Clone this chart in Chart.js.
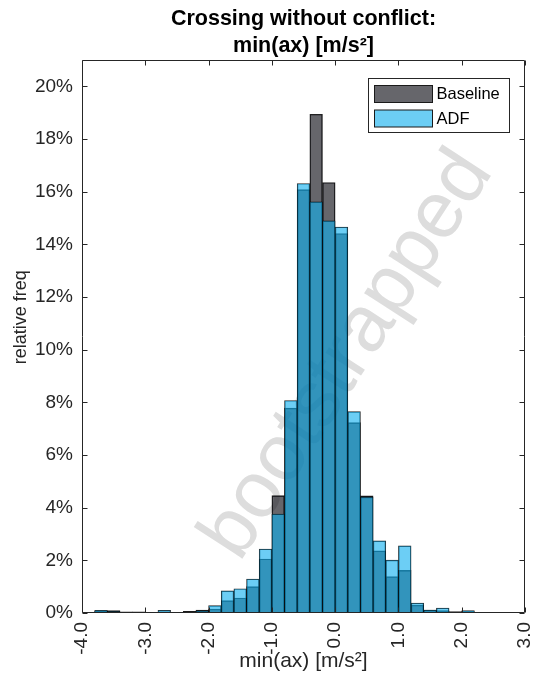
<!DOCTYPE html>
<html>
<head>
<meta charset="utf-8">
<title>Crossing without conflict: min(ax)</title>
<script src="https://cdn.jsdelivr.net/npm/chart.js@4.4.1/dist/chart.umd.min.js"></script>
<style>
  html, body { margin: 0; padding: 0; background: #ffffff; }
  #wrap { width: 534px; height: 684px; }
</style>
</head>
<body>
<div id="wrap"><canvas id="chart" width="534" height="684"></canvas></div>
<script>
// Histogram bins (centre of each 0.2 m/s² bin) and relative frequencies in %
const binCenters = [-3.7, -3.5, -3.3, -3.1, -2.9, -2.7, -2.5, -2.3, -2.1, -1.9,
                    -1.7, -1.5, -1.3, -1.1, -0.9, -0.7, -0.5, -0.3, -0.1, 0.1,
                     0.3,  0.5,  0.7,  0.9,  1.1,  1.3,  1.5,  1.7,  1.9, 2.1];
const baselineFreq = [0.06, 0.09, 0.04, 0.04, 0, 0, 0.02, 0.06, 0.11, 0.15,
                      0.47, 0.57, 1.00, 2.05, 4.46, 7.78, 16.08, 18.94, 16.35, 14.41,
                      7.23, 4.45, 2.36, 1.38, 1.62, 0.30, 0.11, 0.09, 0.05, 0.05];
const adfFreq = [0.10, 0.06, 0.03, 0.03, 0, 0.10, 0, 0.04, 0.08, 0.28,
                 0.84, 0.92, 1.29, 2.43, 3.76, 8.07, 16.31, 15.61, 14.89, 14.66,
                 7.65, 4.40, 2.74, 2.01, 2.55, 0.38, 0.11, 0.19, 0.03, 0.09];
const seriesNames = ['Baseline', 'ADF'];
const xTickValues = [-4, -3, -2, -1, 0, 1, 2, 3];
const yTickValues = [0, 2, 4, 6, 8, 10, 12, 14, 16, 18, 20];
const titleLines = ['Crossing without conflict:', 'min(ax) [m/s²]'];
const xAxisTitle = 'min(ax) [m/s²]';
const yAxisTitle = 'relative freq';
const watermarkText = 'bootstrapped';

const FONT = '"Liberation Sans", Arial, Helvetica, sans-serif';
const AXIS_COLOR = '#262626';
Chart.defaults.font.family = FONT;
Chart.defaults.color = AXIS_COLOR;

const toPoints = vals => binCenters.map((x, i) => ({ x, y: vals[i] > 0 ? vals[i] : null }));

// light grey text lying diagonally behind the bars
const watermark = {
  id: 'watermark',
  beforeDatasetsDraw(chart) {
    const { ctx, chartArea: a } = chart;
    const size = 80;
    ctx.save();
    ctx.beginPath();
    ctx.rect(a.left, a.top, a.right - a.left, a.bottom - a.top);
    ctx.clip();
    ctx.translate(a.left + (a.right - a.left) * 0.603, a.top + (a.bottom - a.top) * 0.535);
    ctx.rotate(-57 * Math.PI / 180);
    ctx.fillStyle = '#dddddd';
    ctx.font = size + 'px ' + FONT;
    ctx.textAlign = 'center';
    ctx.textBaseline = 'alphabetic';
    ctx.fillText(watermarkText, 0, size * 0.26);
    ctx.restore();
  }
};

// boxed axes with inward tick marks on all four sides, plus the y-axis label
const axesBox = {
  id: 'axesBox',
  afterDatasetsDraw(chart) {
    const { ctx, chartArea: a, scales: { x, y } } = chart;
    const L = Math.round(a.left) + 0.5, R = Math.round(a.right) - 0.5;
    const T = Math.round(a.top) + 0.5, B = Math.round(a.bottom) - 0.5;
    const tl = 5;
    ctx.save();
    ctx.strokeStyle = AXIS_COLOR;
    ctx.lineWidth = 1;
    ctx.beginPath();
    ctx.rect(L, T, R - L, B - T);
    x.ticks.forEach(t => {
      const px = Math.round(x.getPixelForValue(t.value)) + 0.5;
      ctx.moveTo(px, B); ctx.lineTo(px, B - tl);
      ctx.moveTo(px, T); ctx.lineTo(px, T + tl);
    });
    y.ticks.forEach(t => {
      const py = Math.round(y.getPixelForValue(t.value)) + 0.5;
      ctx.moveTo(L, py); ctx.lineTo(L + tl, py);
      ctx.moveTo(R, py); ctx.lineTo(R - tl, py);
    });
    ctx.stroke();

    ctx.translate(21, a.top + (a.bottom - a.top) * 0.465);
    ctx.rotate(-Math.PI / 2);
    ctx.fillStyle = AXIS_COLOR;
    ctx.font = '18px ' + FONT;
    ctx.textAlign = 'center';
    ctx.textBaseline = 'middle';
    ctx.fillText(yAxisTitle, 0, 0);
    ctx.restore();
  }
};

// boxed legend in the upper right corner of the plot
const boxLegend = {
  id: 'boxLegend',
  afterDraw(chart) {
    const { ctx, chartArea: a } = chart;
    const w = 141, h = 54;
    const bx = Math.round(a.right) - 16 - w + 0.5, by = Math.round(a.top) + 18 + 0.5;
    ctx.save();
    ctx.fillStyle = '#ffffff';
    ctx.fillRect(bx, by, w, h);
    ctx.strokeStyle = AXIS_COLOR;
    ctx.lineWidth = 1;
    ctx.strokeRect(bx, by, w, h);
    chart.data.datasets.forEach((ds, i) => {
      const sy = by + 7 + i * 24.5;
      ctx.fillStyle = '#ffffff';
      ctx.fillRect(bx + 6, sy, 58, 17);
      ctx.fillStyle = ds.backgroundColor;
      ctx.fillRect(bx + 6, sy, 58, 17);
      ctx.strokeStyle = '#1a1a1a';
      ctx.strokeRect(bx + 6, sy, 58, 17);
      ctx.fillStyle = '#000000';
      ctx.font = '16.5px ' + FONT;
      ctx.textAlign = 'left';
      ctx.textBaseline = 'middle';
      ctx.fillText(ds.label, bx + 68, sy + 9);
    });
    ctx.restore();
  }
};

new Chart(document.getElementById('chart'), {
  type: 'bar',
  data: {
    datasets: [
      {
        label: seriesNames[0],
        data: toPoints(baselineFreq),
        backgroundColor: 'rgba(0, 0, 8, 0.6)',
        borderColor: 'rgba(0, 0, 0, 0.85)',
        borderWidth: 0.75,
        borderSkipped: false,
        order: 2
      },
      {
        label: seriesNames[1],
        data: toPoints(adfFreq),
        backgroundColor: 'rgba(18, 176, 239, 0.62)',
        borderColor: 'rgba(0, 0, 0, 0.85)',
        borderWidth: 0.75,
        borderSkipped: false,
        order: 1
      }
    ]
  },
  options: {
    responsive: false,
    animation: false,
    devicePixelRatio: 1,
    grouped: false,
    barPercentage: 1,
    categoryPercentage: 1,
    layout: { padding: { left: 0, right: 9, top: 0, bottom: 0 } },
    plugins: {
      legend: { display: false },
      tooltip: { enabled: false },
      title: {
        display: true,
        fullSize: false,
        text: titleLines,
        color: '#000000',
        font: { size: 21.5, weight: 'bold', family: FONT, lineHeight: 1.256 },
        padding: { top: 6, bottom: 0 }
      }
    },
    scales: {
      x: {
        type: 'linear',
        min: -4,
        max: 3,
        offset: false,
        grid: { display: false, drawTicks: false },
        border: { display: false },
        afterBuildTicks: s => { s.ticks = xTickValues.map(v => ({ value: v })); },
        afterFit: s => { s.height = 71; s.paddingLeft = 0; s.paddingRight = 0; },
        ticks: {
          autoSkip: false,
          minRotation: 90,
          maxRotation: 90,
          padding: 9,
          color: AXIS_COLOR,
          font: { size: 19 },
          callback: v => v.toFixed(1)
        },
        title: {
          display: true,
          text: xAxisTitle,
          color: AXIS_COLOR,
          font: { size: 21 },
          padding: { top: 0, bottom: 10 }
        }
      },
      y: {
        min: 0,
        max: 21,
        grid: { display: false, drawTicks: false },
        border: { display: false },
        afterBuildTicks: s => { s.ticks = yTickValues.map(v => ({ value: v })); },
        afterFit: s => { s.width = 82; s.paddingTop = 0; s.paddingBottom = 0; },
        ticks: {
          padding: 9,
          color: AXIS_COLOR,
          font: { size: 19 },
          callback: v => v + '%'
        },
        title: { display: false }
      }
    }
  },
  plugins: [watermark, axesBox, boxLegend]
});
</script>
</body>
</html>
